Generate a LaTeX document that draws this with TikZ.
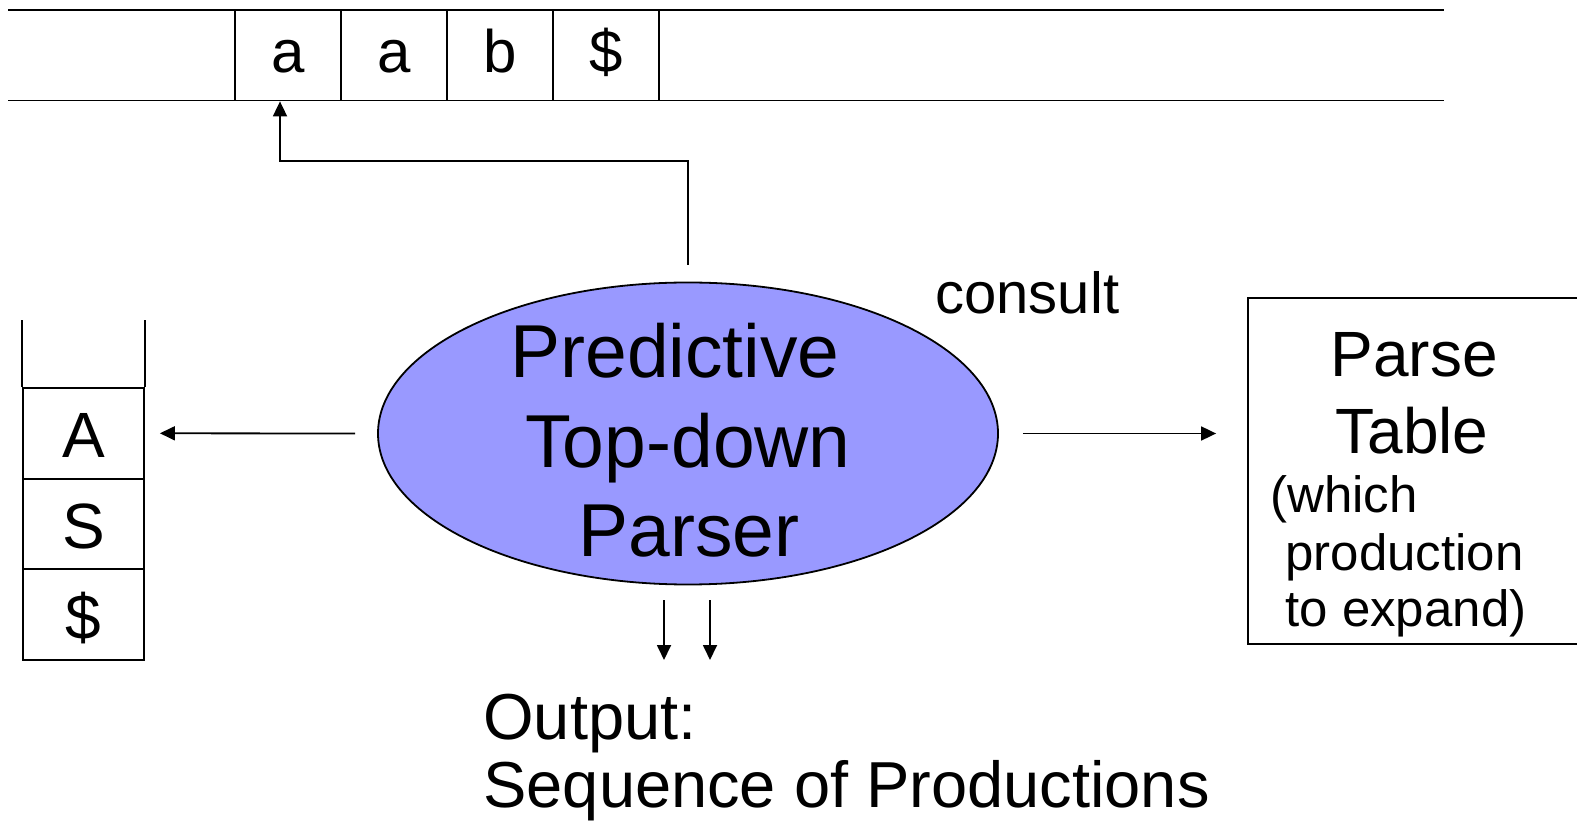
\documentclass[tikz,border=0pt]{standalone}
\usepackage{fontspec}
\setmainfont{Liberation Sans}
\usepackage{xcolor}
\usetikzlibrary{positioning,shapes,arrows.meta,calc}
\definecolor{parserblue}{RGB}{153,153,255}

\begin{document}
\begin{tikzpicture}[x=0.5pt,y=-0.5pt]
\tikzstyle{every node}+=[inner sep=0pt]
\tikzset{
  arr/.style={-{Triangle[length=7.5pt,width=7pt]}, line width=0.9pt},
  tapecell/.style={draw, line width=0.9pt, minimum width=53pt, minimum height=45.25pt,
    text height=17pt, text depth=0pt, font=\fontsize{30}{36}\selectfont},
  stackcell/.style={draw, line width=0.9pt, minimum width=60.5pt, minimum height=45.33pt,
    text height=24.5pt, text depth=0pt, font=\fontsize{32}{38}\selectfont},
  bigtext/.style={anchor=base, font=\fontsize{37.5}{44}\selectfont},
  midtext/.style={anchor=base, font=\fontsize{32}{38}\selectfont},
  smalltext/.style={anchor=base west, font=\fontsize{25.5}{30}\selectfont}
}
\useasboundingbox (0,0) rectangle (1577,822);
% input tape
\draw [line width=0.9pt] (8,10) -- (1444,10);
\draw [line width=0.9pt] (8,100.5) -- (1444,100.5);
\node [tapecell] (c1) at (288,55.25) {a};
\node [tapecell] (c2) at (394,55.25) {a};
\node [tapecell] (c3) at (500,55.25) {b};
\node [tapecell] (c4) at (606,55.25) {\$};
% stack
\node [stackcell] (sA) at (83.5,433.3) {A};
\node [stackcell] (sS) at (83.5,524) {S};
\node [stackcell] (sD) at (83.5,614.7) {\$};
\draw [line width=0.9pt] (sA.north west) -- (sA.north west |- 0,320);
\draw [line width=0.9pt] (sA.north east) -- (sA.north east |- 0,320);
% parser
\node [draw, ellipse, fill=parserblue, line width=0.9pt, minimum width=310pt,
  minimum height=151pt] (parser) at (688,433.5) {};
\node [bigtext] (p1) at (675,378) {Predictive};
\node [bigtext] (p2) at (688,468) {Top-down};
\node [bigtext] (p3) at (689,556) {Parser};
% parse table
\node [draw, line width=0.9pt, minimum width=170pt, minimum height=173pt] (table) at (1418,471) {};
\node [midtext] (t1) at (1414,377) {Parse};
\node [midtext] (t2) at (1412,454) {Table};
\node [smalltext] (t3) at (1270,513) {(which};
\node [smalltext] (t4) at (1285,570) {production};
\node [smalltext] (t5) at (1285,626) {to expand)};
\node [anchor=base west, font=\fontsize{29}{35}\selectfont] (consult) at (935,314) {consult};
% output
\node [anchor=base west, font=\fontsize{32.5}{38}\selectfont] (out1) at (483,739) {Output:};
\node [anchor=base west, font=\fontsize{32.5}{38}\selectfont] (out2) at (483,807) {Sequence of Productions};
\coordinate (bend) at (280,161);
\coordinate (outL) at (664,660);
\coordinate (outR) at (710,660);
% connectors
\draw [arr] ([yshift=8.5pt]parser.north) -- (parser.north |- bend) -- (bend) -- ([xshift=-4pt]c1.south);
\draw [arr] ([xshift=-11pt]parser.west) -- ([xshift=7.5pt]sA.east);
\draw [arr] ([xshift=12pt]parser.east) -- ([xshift=-15.5pt]parser.east -| table.west);
\draw [arr] ($(parser.south -| outL)+(0,15)$) -- (outL);
\draw [arr] ($(parser.south -| outR)+(0,15)$) -- (outR);
\end{tikzpicture}
\end{document}
